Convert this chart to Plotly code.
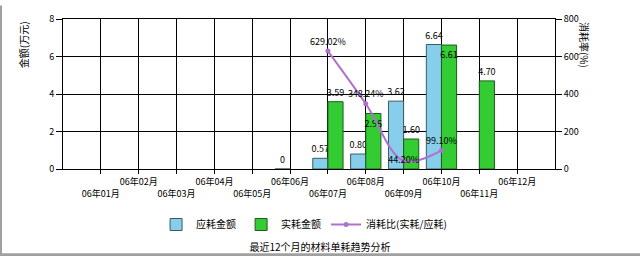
import plotly.graph_objects as go

months = ["06年01月", "06年02月", "06年03月", "06年04月", "06年05月", "06年06月",
          "06年07月", "06年08月", "06年09月", "06年10月", "06年11月", "06年12月"]
planned = [None, None, None, None, None, 0, 0.57, 0.80, 3.62, 6.64, None, None]
actual = [None, None, None, None, None, None, 3.59, 2.96, 1.60, 6.61, 4.70, None]
ratio = [None, None, None, None, None, None, 629.02, 348.24, 44.20, 99.10, None, None]

xpos = list(range(1, len(months) + 1))
ticktext = [m if i % 2 == 1 else "<br>" + m for i, m in enumerate(months)]

def fmt(v):
    if v is None:
        return ""
    return "0" if v == 0 else f"{v:.2f}"

font = "Noto Sans CJK SC, DejaVu Sans, sans-serif"

actual_pos = ["outside"] * 12
actual_pos[7] = "inside"
actual_pos[9] = "inside"

fig = go.Figure()
fig.add_trace(go.Bar(
    x=xpos, y=planned, name="应耗金额",
    marker=dict(color="#87CEEB", line=dict(color="#3a5a6a", width=1)),
    text=[fmt(v) for v in planned], textposition="outside", cliponaxis=False,
    constraintext="none", textangle=0,
    textfont=dict(size=9, color="black", family=font),
))
fig.add_trace(go.Bar(
    x=xpos, y=actual, name="实耗金额",
    marker=dict(color="#33CC33", line=dict(color="#1f5a1f", width=1)),
    text=[fmt(v) for v in actual], textposition=actual_pos, cliponaxis=False,
    constraintext="none", insidetextanchor="end", textangle=0,
    textfont=dict(size=9, color="black", family=font),
    insidetextfont=dict(size=9, color="black", family=font),
    outsidetextfont=dict(size=9, color="black", family=font),
))
fig.add_trace(go.Scatter(
    x=xpos, y=ratio, name="消耗比(实耗/应耗)", yaxis="y2",
    mode="lines+markers+text", line=dict(color="#B070CC", width=2, shape="spline"),
    marker=dict(size=5, color="#B070CC"),
    text=["" if v is None else f"{v:.2f}%" for v in ratio],
    textposition=["top center"] * 6 + ["top center", "top center", "middle center", "top center"] + ["top center"] * 2,
    textfont=dict(size=9, color="black", family=font),
    connectgaps=False, cliponaxis=False,
))

fig.update_layout(
    width=640, height=259,
    margin=dict(l=63, r=85, t=14, b=90),
    paper_bgcolor="white", plot_bgcolor="white",
    font=dict(family=font, size=9, color="black"),
    barmode="group", bargap=0.2, bargroupgap=0,
    showlegend=True,
    legend=dict(orientation="h", x=0.49, y=-0.37, xanchor="center", yanchor="middle",
                font=dict(size=10, family=font), itemwidth=30),
    xaxis=dict(range=[0, 13], tickvals=xpos, ticktext=ticktext, tickangle=0,
               showgrid=True, gridcolor="black", gridwidth=1,
               showline=True, linecolor="black", mirror=True,
               ticks="outside", ticklen=4, tickcolor="black",
               tickfont=dict(size=9, family=font), zeroline=False),
    yaxis=dict(range=[0, 8], tickvals=[0, 2, 4, 6, 8],
               showgrid=True, gridcolor="black", gridwidth=1,
               showline=True, linecolor="black",
               ticks="outside", ticklen=6, tickcolor="black", zeroline=False,
               tickfont=dict(size=9)),
    yaxis2=dict(range=[0, 800], tickvals=[0, 200, 400, 600, 800], overlaying="y", side="right",
                showgrid=False, showline=True, linecolor="black",
                ticks="outside", ticklen=6, tickcolor="black", zeroline=False,
                tickfont=dict(size=9)),
    title=dict(text="最近12个月的材料单耗趋势分析", x=0.5, xanchor="center",
               y=0.045, yanchor="middle", yref="container",
               font=dict(size=10, family=font)),
)

fig.add_annotation(text="金额(万元)", xref="paper", yref="paper", x=-0.08, y=0.83,
                   xanchor="center", yanchor="middle",
                   textangle=-90, showarrow=False, font=dict(size=10, family=font))
fig.add_annotation(text="消耗率(%)", xref="paper", yref="paper", x=1.06, y=0.83,
                   xanchor="center", yanchor="middle",
                   textangle=90, showarrow=False, font=dict(size=10, family=font))

# frame edges
fig.add_shape(type="rect", xref="paper", yref="paper", x0=-63/492, x1=-61/492, y0=-90/155, y1=14/155 + 1,
              fillcolor="#a0a0a0", line=dict(width=0), layer="above")
fig.add_shape(type="rect", xref="paper", yref="paper", x0=-63/492, x1=(640 - 63) / 492, y0=-90/155, y1=-87/155,
              fillcolor="#a0a0a0", line=dict(width=0), layer="above")

fig.write_html("out.html")
